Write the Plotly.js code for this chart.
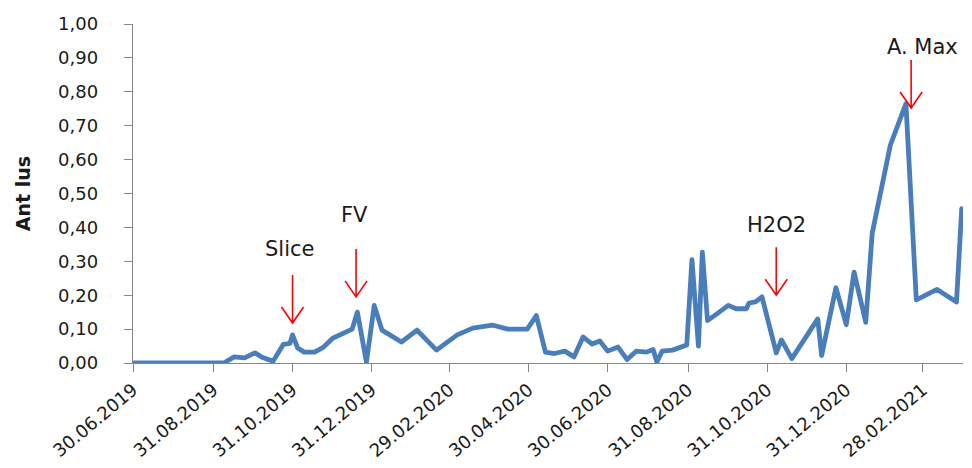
<!DOCTYPE html>
<html>
<head>
<meta charset="utf-8">
<script src="https://cdn.plot.ly/plotly-3.0.1.min.js"></script>
<style>
html, body { margin: 0; padding: 0; background: #ffffff; }
#chart { width: 972px; height: 468px; }
.scatterlayer path.js-line { stroke-linejoin: round !important; stroke-linecap: round !important; }
</style>
</head>
<body>
<div id="chart"></div>
<script>
// Sampling dates and measured values (Ant lus)
const dates = [
  '2019-07-01','2019-09-08','2019-09-16','2019-09-24','2019-10-02','2019-10-07','2019-10-16','2019-10-24',
  '2019-10-29','2019-10-31','2019-11-04','2019-11-09','2019-11-17','2019-11-24','2019-12-01','2019-12-12',
  '2019-12-16','2019-12-20','2019-12-27','2020-01-02','2020-01-08','2020-01-23','2020-02-04','2020-02-19',
  '2020-03-06','2020-03-18','2020-04-02','2020-04-14','2020-04-29','2020-05-06','2020-05-13','2020-05-20',
  '2020-05-28','2020-06-04','2020-06-11','2020-06-18','2020-06-24','2020-06-30','2020-07-08','2020-07-15',
  '2020-07-22','2020-07-30','2020-08-04','2020-08-07','2020-08-11','2020-08-19','2020-08-30','2020-09-03',
  '2020-09-08','2020-09-11','2020-09-15','2020-09-23','2020-10-01','2020-10-07','2020-10-15','2020-10-17',
  '2020-10-22','2020-10-27','2020-11-07','2020-11-11','2020-11-19','2020-12-09','2020-12-12','2020-12-23',
  '2020-12-31','2021-01-06','2021-01-15','2021-01-20','2021-02-03','2021-02-15','2021-02-23','2021-03-11',
  '2021-03-26','2021-03-30'
];
const values = [
  0, 0, 0.018, 0.015, 0.030, 0.018, 0.005, 0.055,
  0.058, 0.083, 0.044, 0.032, 0.032, 0.047, 0.073, 0.090,
  0.100, 0.150, 0.003, 0.170, 0.097, 0.062, 0.097, 0.038,
  0.083, 0.103, 0.112, 0.100, 0.100, 0.140, 0.032, 0.028,
  0.035, 0.018, 0.077, 0.056, 0.065, 0.035, 0.047, 0.010,
  0.035, 0.032, 0.040, 0.003, 0.035, 0.038, 0.053, 0.305,
  0.050, 0.327, 0.125, 0.147, 0.170, 0.160, 0.160, 0.177,
  0.180, 0.195, 0.030, 0.068, 0.013, 0.130, 0.022, 0.222,
  0.113, 0.268, 0.120, 0.383, 0.643, 0.765, 0.186, 0.217,
  0.180, 0.455
];

// Axis ticks
const xTickDates = ['2019-06-30','2019-08-31','2019-10-31','2019-12-31','2020-02-29','2020-04-30',
                    '2020-06-30','2020-08-31','2020-10-31','2020-12-31','2021-02-28'];
const xRange = ['2019-06-30','2021-03-31'];
const yTicks = [0,0.1,0.2,0.3,0.4,0.5,0.6,0.7,0.8,0.9,1.0];

// Event markers
const eventLabels = ['Slice','FV','H2O2','A. Max'];
const eventArrowDates = ['2019-10-31','2019-12-19','2020-11-07','2021-02-19'];
const eventArrowValues = [0.118, 0.195, 0.200, 0.752];
const eventTextDates = ['2019-10-29','2019-12-18','2020-11-07','2021-02-28'];
const eventTextValues = [0.336, 0.437, 0.407, 0.932];

const FONT = 'DejaVu Sans, Verdana, sans-serif';
const annotations = [];
const shapes = [];
for (let i = 0; i < eventLabels.length; i++) {
  // red arrow: vertical stem with an open V head, sized in pixels, anchored at the event point
  shapes.push({
    type: 'path', xref: 'x', yref: 'y',
    xsizemode: 'pixel', ysizemode: 'pixel',
    xanchor: eventArrowDates[i], yanchor: eventArrowValues[i],
    path: 'M0,48L0,0 M-11,16L0,0L11,16',
    line: {color: '#ff0000', width: 1.6},
    layer: 'above'
  });
  annotations.push({
    x: eventTextDates[i], y: eventTextValues[i], xref: 'x', yref: 'y',
    text: eventLabels[i], showarrow: false,
    font: {family: FONT, size: 21, color: '#1a1a1a'},
    xanchor: 'center', yanchor: 'middle'
  });
}

const trace = {
  x: dates, y: values, type: 'scatter', mode: 'lines',
  line: {color: '#4a7ebb', width: 4.8},
  hoverinfo: 'x+y'
};

const layout = {
  width: 972, height: 468,
  margin: {l: 133, r: 9, t: 24, b: 105},
  paper_bgcolor: '#ffffff', plot_bgcolor: '#ffffff',
  showlegend: false,
  separators: ', ',
  font: {family: FONT, size: 18, color: '#1a1a1a'},
  xaxis: {
    type: 'date', range: xRange, tickvals: xTickDates, tickformat: '%d.%m.%Y',
    tickangle: -40, ticks: 'outside', ticklen: 8, tickcolor: '#868686', tickwidth: 1,
    showline: true, linecolor: '#868686', linewidth: 1.3, showgrid: false, zeroline: false,
    tickfont: {family: FONT, size: 18, color: '#1a1a1a'}
  },
  yaxis: {
    range: [0, 1], tickvals: yTicks, tickformat: '.2f',
    ticks: 'outside', ticklen: 8, tickcolor: '#868686', tickwidth: 1,
    showline: true, linecolor: '#868686', linewidth: 1.3, showgrid: false, zeroline: false,
    ticklabelstandoff: 22,
    tickfont: {family: FONT, size: 18, color: '#1a1a1a'},
    title: {text: 'Ant lus', font: {family: FONT, size: 19, color: '#1a1a1a', weight: 'bold'}, standoff: 22}
  },
  shapes: shapes,
  annotations: annotations
};

Plotly.newPlot('chart', [trace], layout, {displayModeBar: false, staticPlot: true});
</script>
</body>
</html>
